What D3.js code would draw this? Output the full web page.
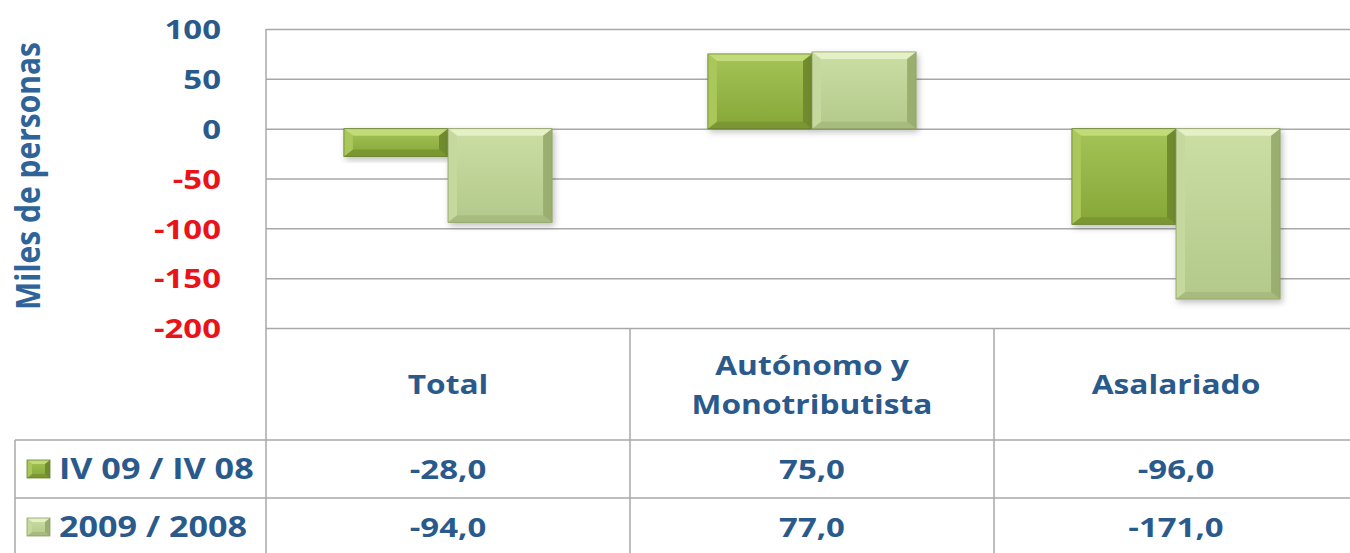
<!DOCTYPE html>
<html><head><meta charset="utf-8">
<script src="https://cdn.jsdelivr.net/npm/d3@7"></script>
<style>
html,body{margin:0;padding:0;background:#fff;overflow:hidden}
text{font-family:"Open Sans",sans-serif;font-weight:700}
</style></head>
<body><svg id="c" width="1350" height="553"></svg>
<script>
const categories = ["Total", "Autónomo y Monotributista", "Asalariado"];
const headerLines = [["Total"], ["Autónomo y", "Monotributista"], ["Asalariado"]];
const seriesNames = ["IV 09 / IV 08", "2009 / 2008"];
const valuesQuarter = [-28.0, 75.0, -96.0];
const valuesYear = [-94.0, 77.0, -171.0];
const yTicks = [100, 50, 0, -50, -100, -150, -200];
const yTitle = "Miles de personas";

const series = [valuesQuarter, valuesYear];
const svg = d3.select("#c");
const W = 1350, H = 553;
const plotL = 266, plotR = 1358, plotT = 29, plotB = 328;
const rowY = [328, 440, 498, 556];
const legL = 15;
const SX = 1.22; // horizontal stretch of text
const blue = "#2a5a8c", red = "#e8141a", grid = "#a8a8a8";

const x = d3.scaleBand().domain(categories).range([plotL, plotR]).padding(0);
const bw = x.bandwidth();
const gw = bw * 0.572;
const xs = d3.scaleBand().domain(d3.range(series.length)).range([(bw - gw) / 2, (bw + gw) / 2]).padding(0);
const y = d3.scaleLinear().domain([-200, 100]).range([plotB, plotT]);

const defs = svg.append("defs");
const styles = [
  {g0:"#a4c458", g1:"#86a637", top:"#c0db78", left:"#a9c75a", right:"#6f8c2e", bot:"#7a9731", stroke:"#687f2d"},
  {g0:"#cbdea4", g1:"#b3c88b", top:"#e5f0c6", left:"#c5d89e", right:"#9aae70", bot:"#a7bb7e", stroke:"#8c9f64"}
];
styles.forEach((s, i) => {
  const lg = defs.append("linearGradient").attr("id", "g" + i).attr("x1", 0).attr("y1", 0).attr("x2", 0).attr("y2", 1);
  lg.append("stop").attr("offset", "0%").attr("stop-color", s.g0);
  lg.append("stop").attr("offset", "100%").attr("stop-color", s.g1);
});
const f = defs.append("filter").attr("id", "sh").attr("x", "-10%").attr("y", "-10%").attr("width", "130%").attr("height", "130%");
f.append("feDropShadow").attr("dx", 2).attr("dy", 3).attr("stdDeviation", 3).attr("flood-color", "#000").attr("flood-opacity", 0.25);

function bevelRect(g, x0, y0, w, h, s, i, bx, by) {
  const grp = g.append("g");
  const x1 = x0 + w, y1 = y0 + h;
  grp.append("rect").attr("x", x0).attr("y", y0).attr("width", w).attr("height", h)
    .attr("fill", `url(#g${i})`);
  const poly = (pts, c) => grp.append("polygon").attr("points", pts.map(p => p.join(",")).join(" ")).attr("fill", c);
  poly([[x0, y0], [x1, y0], [x1 - bx, y0 + by], [x0 + bx, y0 + by]], s.top);
  poly([[x0, y1], [x1, y1], [x1 - bx, y1 - by], [x0 + bx, y1 - by]], s.bot);
  poly([[x0, y0], [x0 + bx, y0 + by], [x0 + bx, y1 - by], [x0, y1]], s.left);
  poly([[x1, y0], [x1 - bx, y0 + by], [x1 - bx, y1 - by], [x1, y1]], s.right);
  grp.append("rect").attr("x", x0).attr("y", y0).attr("width", w).attr("height", h)
    .attr("fill", "none").attr("stroke", s.stroke).attr("stroke-width", 0.8);
  return grp;
}

function sText(g, str, px, py, size, color, anchor, weight) {
  return g.append("text").attr("transform", `translate(${px},${py}) scale(${SX},1)`)
    .attr("text-anchor", anchor || "middle").attr("font-size", size).attr("fill", color)
    .attr("font-weight", weight || 700).text(str);
}

// gridlines
const gridG = svg.append("g");
gridG.call(d3.axisRight(y).tickValues(yTicks).tickSize(plotR - plotL).tickFormat(""))
  .attr("transform", `translate(${plotL},0)`);
gridG.select(".domain").remove();
gridG.selectAll("line").attr("stroke", grid).attr("stroke-width", 1.5);

// y axis labels
const axG = svg.append("g").attr("transform", `translate(221,0)`);
axG.call(d3.axisLeft(y).tickValues(yTicks).tickSize(0).tickPadding(0).tickFormat(d => String(d)));
axG.select(".domain").remove();
axG.selectAll("text")
  .attr("font-size", 27).attr("font-family", "Open Sans, sans-serif").attr("font-weight", 700)
  .attr("fill", d => d < 0 ? red : blue)
  .attr("dy", "0.36em")
  .attr("transform", `scale(${SX},1)`);

// y title
svg.append("text").attr("transform", `translate(40,176) scale(1.12,1) rotate(-90)`)
  .attr("text-anchor", "middle").attr("font-size", 30).attr("font-weight", 400).attr("fill", "#2e6498").text(yTitle);

// table lines
const tl = svg.append("g").attr("stroke", grid).attr("stroke-width", 1.5);
tl.append("line").attr("x1", plotL).attr("x2", plotL).attr("y1", plotT).attr("y2", H);
categories.forEach((c, i) => {
  if (i > 0) tl.append("line").attr("x1", x(c)).attr("x2", x(c)).attr("y1", plotB).attr("y2", H);
});
tl.append("line").attr("x1", legL).attr("x2", legL).attr("y1", rowY[1]).attr("y2", H);
[rowY[1], rowY[2]].forEach(yy => tl.append("line").attr("x1", legL).attr("x2", plotR).attr("y1", yy).attr("y2", yy));

// bars
const barsG = svg.append("g");
series.forEach((vals, si) => {
  vals.forEach((v, ci) => {
    const x0 = x(categories[ci]) + xs(si);
    const yTop = y(Math.max(0, v)), yBot = y(Math.min(0, v));
    bevelRect(barsG, x0, yTop, xs.bandwidth(), yBot - yTop, styles[si], si, 9, 7).attr("filter", "url(#sh)");
  });
});

// headers
const tg = svg.append("g");
headerLines.forEach((lines, ci) => {
  const cx = x(categories[ci]) + bw / 2;
  if (lines.length === 1) sText(tg, lines[0], cx, 394, 26, blue);
  else lines.forEach((ln, k) => sText(tg, ln, cx, 375 + k * 39, 26, blue));
});

// values
const fmt = v => d3.format(".1f")(v).replace(".", ",").replace("−", "-");
series.forEach((vals, si) => {
  const cy = (rowY[si + 1] + rowY[si + 2]) / 2;
  vals.forEach((v, ci) => sText(tg, fmt(v), x(categories[ci]) + bw / 2, cy + 10, 27, blue));
  bevelRect(tg, 27, cy - 9, 23, 18, styles[si], si, 5, 4);
  sText(tg, seriesNames[si], 59, cy + 10, 28, blue, "start");
});
</script></body></html>
